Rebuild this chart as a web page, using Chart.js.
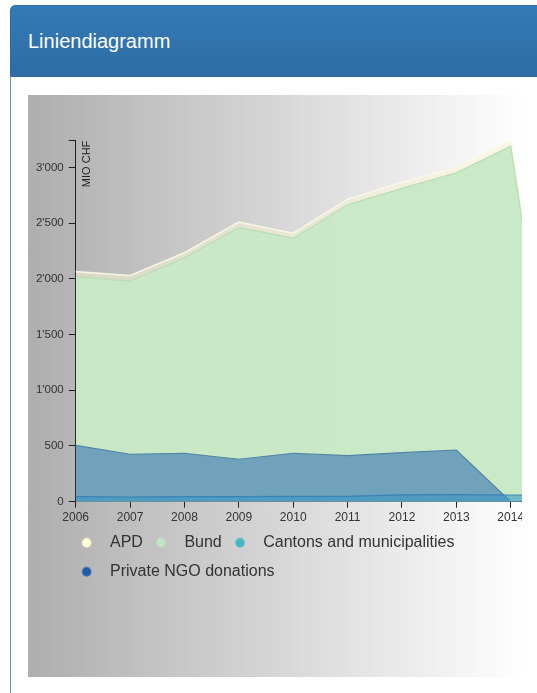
<!DOCTYPE html>
<html>
<head>
<meta charset="utf-8">
<script src="https://cdn.jsdelivr.net/npm/chart.js@4.4.1/dist/chart.umd.min.js"></script>
<style>
html,body{margin:0;padding:0;background:#fff;width:537px;height:693px;overflow:hidden;font-family:"Liberation Sans",Arial,Helvetica,sans-serif;}
#head{position:absolute;left:10px;top:5px;width:640px;height:70px;background:linear-gradient(#337ab7,#2e6da4);border:1px solid #2e6da4;border-top-left-radius:5px;}
#head span{position:absolute;left:17px;top:25px;line-height:20px;font-size:20px;color:#fff;white-space:nowrap;}
#bodyline{position:absolute;left:10px;top:77px;width:1px;height:616px;background:#5b8fc4;}
#panel{position:absolute;left:28px;top:95px;width:499px;height:582px;background:linear-gradient(to right,#aeaeae,#ffffff);}
#clip{position:absolute;left:28px;top:95px;width:494px;height:582px;overflow:hidden;}
#chart{position:absolute;left:0;top:0;}
</style>
</head>
<body>
<div id="head"><span>Liniendiagramm</span></div>
<div id="bodyline"></div>
<div id="panel"></div>
<div id="clip"><canvas id="chart" width="580" height="500"></canvas></div>
<script>
// ---- data ----
const years = ['2006','2007','2008','2009','2010','2011','2012','2013','2014','2015'];
const apd      = [2065, 2030, 2235, 2510, 2410, 2715, 2865, 3000, 3240, 0];
const bund     = [2020, 1980, 2190, 2460, 2365, 2665, 2812, 2952, 3190, 0];
const cantons  = [45, 42, 45, 45, 48, 48, 62, 63, 60, 60];
const ngo      = [505, 426, 435, 381, 435, 413, 440, 464, 0, 0];
const seriesNames = ['APD', 'Bund', 'Cantons and municipalities', 'Private NGO donations'];
const yTickValues = [0, 500, 1000, 1500, 2000, 2500, 3000];
const yAxisTitle = 'MIO CHF';

// ---- styles ----
const legendDotColors = ['#ffffd2', '#c3e4c3', '#41b6c4', '#225ea8'];
const fills   = ['rgba(246,242,212,0.55)', 'rgba(199,232,197,0.94)', 'rgba(60,150,195,0.6)', 'rgba(108,158,186,0.95)'];
const borders = ['rgba(250,248,228,0.9)', 'rgba(186,220,182,1)', 'rgba(50,128,178,0.9)', 'rgba(82,132,166,1)'];
const drawOrder = [4, 3, 1, 2]; // higher = drawn first (further back)

const font = '"Liberation Sans", Arial, Helvetica, sans-serif';
const yTickFontSize = 11.5;

function fmt(v){ return String(v).replace(/\B(?=(\d{3})+(?!\d))/g, "'"); }

function makeDot(color){
  const c = document.createElement('canvas');
  c.width = 21; c.height = 12;
  const g = c.getContext('2d');
  g.fillStyle = color;
  g.beginPath(); g.arc(5.45, 6, 4.7, 0, Math.PI*2); g.fill();
  return c;
}
const dots = legendDotColors.map(makeDot);

// widest y label (used to right-align mirrored labels left of the axis)
const mctx = document.createElement('canvas').getContext('2d');
mctx.font = yTickFontSize + 'px ' + font;
const widestY = Math.max(...yTickValues.map(v => mctx.measureText(fmt(v)).width));

const seriesData = [apd, bund, cantons, ngo];
const yMax = Math.max(...apd);

new Chart(document.getElementById('chart'), {
  type: 'line',
  data: {
    labels: years,
    datasets: seriesData.map((d, i) => ({
      label: seriesNames[i],
      data: d,
      fill: 'origin',
      backgroundColor: fills[i],
      borderColor: borders[i],
      borderWidth: i === 0 ? 1.6 : 1.2,
      pointRadius: 0,
      pointHoverRadius: 0,
      tension: 0,
      order: drawOrder[i]
    }))
  },
  options: {
    responsive: false,
    animation: false,
    events: [],
    layout: { padding: { left: 40.5, right: 42.9, top: 45.7, bottom: 5.3 } },
    scales: {
      x: {
        type: 'category',
        offset: false,
        grid: { display: true, drawOnChartArea: false, drawTicks: true, tickLength: 6, color: '#222', offset: false },
        border: { display: true, color: '#222', width: 1 },
        ticks: { autoSkip: false, maxRotation: 0, minRotation: 0, padding: 3, color: '#333', font: { family: font, size: 12 } },
        afterFit: s => { s.height = 20; }
      },
      y: {
        min: 0,
        max: yMax,
        grid: { display: true, drawOnChartArea: false, drawTicks: true, tickLength: 7, color: '#222' },
        border: { display: true, color: '#222', width: 1 },
        afterBuildTicks: s => { s.ticks = yTickValues.concat([yMax]).map(v => ({ value: v })); },
        ticks: {
          mirror: true, crossAlign: 'far', autoSkip: false,
          padding: -(12 + widestY),
          color: '#333', font: { family: font, size: yTickFontSize },
          callback: v => yTickValues.includes(v) ? fmt(v) : ''
        },
        title: { display: true, text: yAxisTitle, align: 'end', color: '#222',
                 font: { family: font, size: 11 }, padding: { top: 11.6, bottom: 0 } },
        afterFit: s => { s.width = 7.2; }
      }
    },
    plugins: {
      tooltip: { enabled: false },
      legend: {
        position: 'bottom',
        align: 'start',
        labels: {
          usePointStyle: true,
          pointStyleWidth: 20.5,
          padding: 13,
          color: '#333',
          font: { family: font, size: 16 },
          sort: (a, b) => a.datasetIndex - b.datasetIndex,
          generateLabels: chart => {
            const items = Chart.defaults.plugins.legend.labels.generateLabels(chart);
            items.forEach(it => { it.pointStyle = dots[it.datasetIndex]; });
            return items;
          }
        }
      }
    }
  }
});
</script>
</body>
</html>
